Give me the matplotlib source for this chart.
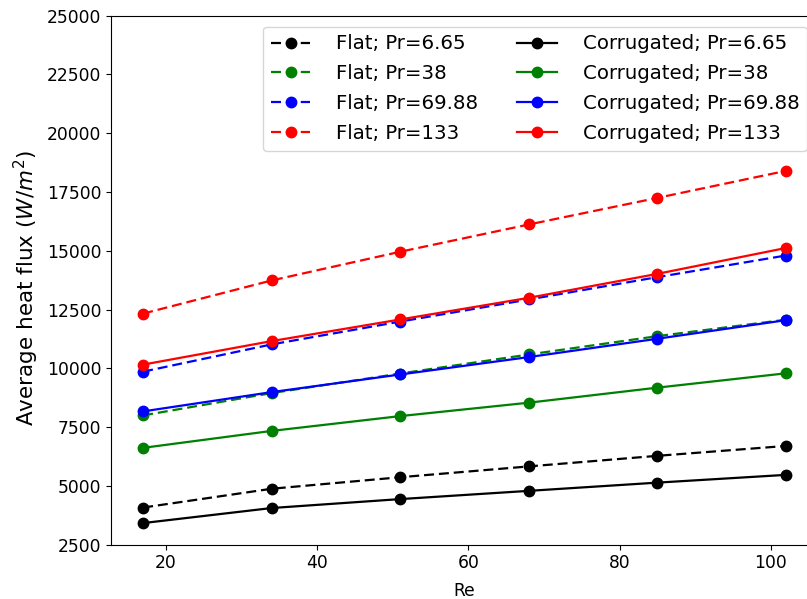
import matplotlib
matplotlib.use("Agg")
import matplotlib.pyplot as plt

# Reynolds numbers
re = [17, 34, 51, 68, 85, 102]

# flat channel, average heat flux (W/m^2)
flat_pr665 = [4080, 4880, 5370, 5830, 6280, 6700]
flat_pr38 = [8000, 8950, 9780, 10590, 11370, 12070]
flat_pr6988 = [9860, 11020, 11990, 12930, 13880, 14800]
flat_pr133 = [12330, 13740, 14960, 16120, 17250, 18400]

# corrugated channel
corr_pr665 = [3420, 4060, 4440, 4790, 5140, 5470]
corr_pr38 = [6620, 7340, 7970, 8540, 9180, 9790]
corr_pr6988 = [8170, 8990, 9740, 10480, 11260, 12050]
corr_pr133 = [10160, 11160, 12080, 13000, 14020, 15120]

fig = plt.figure(figsize=(8.07, 5.99), dpi=100)
ax = fig.add_axes([111 / 807, 54.3 / 599, 707 / 807, 529 / 599])

ms = 7.5
lw = 1.6
dash = (0, (4.5, 2.2))

ax.plot(re, flat_pr665, color='k', ls=dash, marker='o', ms=ms, lw=lw, label='Flat; Pr=6.65')
ax.plot(re, flat_pr38, color='g', ls=dash, marker='o', ms=ms, lw=lw, label='Flat; Pr=38')
ax.plot(re, flat_pr6988, color='b', ls=dash, marker='o', ms=ms, lw=lw, label='Flat; Pr=69.88')
ax.plot(re, flat_pr133, color='r', ls=dash, marker='o', ms=ms, lw=lw, label='Flat; Pr=133')

ax.plot(re, corr_pr665, 'k-', marker='o', ms=ms, lw=lw, label='Corrugated; Pr=6.65')
ax.plot(re, corr_pr38, 'g-', marker='o', ms=ms, lw=lw, label='Corrugated; Pr=38')
ax.plot(re, corr_pr6988, 'b-', marker='o', ms=ms, lw=lw, label='Corrugated; Pr=69.88')
ax.plot(re, corr_pr133, 'r-', marker='o', ms=ms, lw=lw, label='Corrugated; Pr=133')

ax.set_ylim(2500, 25000)
ax.set_yticks(range(2500, 25001, 2500))
ax.set_xticks([20, 40, 60, 80, 100])
ax.tick_params(labelsize=12.3)

ax.set_xlabel("Re", fontsize=12.3, labelpad=7)
ax.set_ylabel("Average heat flux ($W/m^2$)", fontsize=15.5, y=0.485)

ax.legend(ncol=2, loc='upper right', fontsize=14.2, handletextpad=1.3,
          labelspacing=0.55, borderaxespad=0.55)

fig.savefig("out.png", dpi=100)
